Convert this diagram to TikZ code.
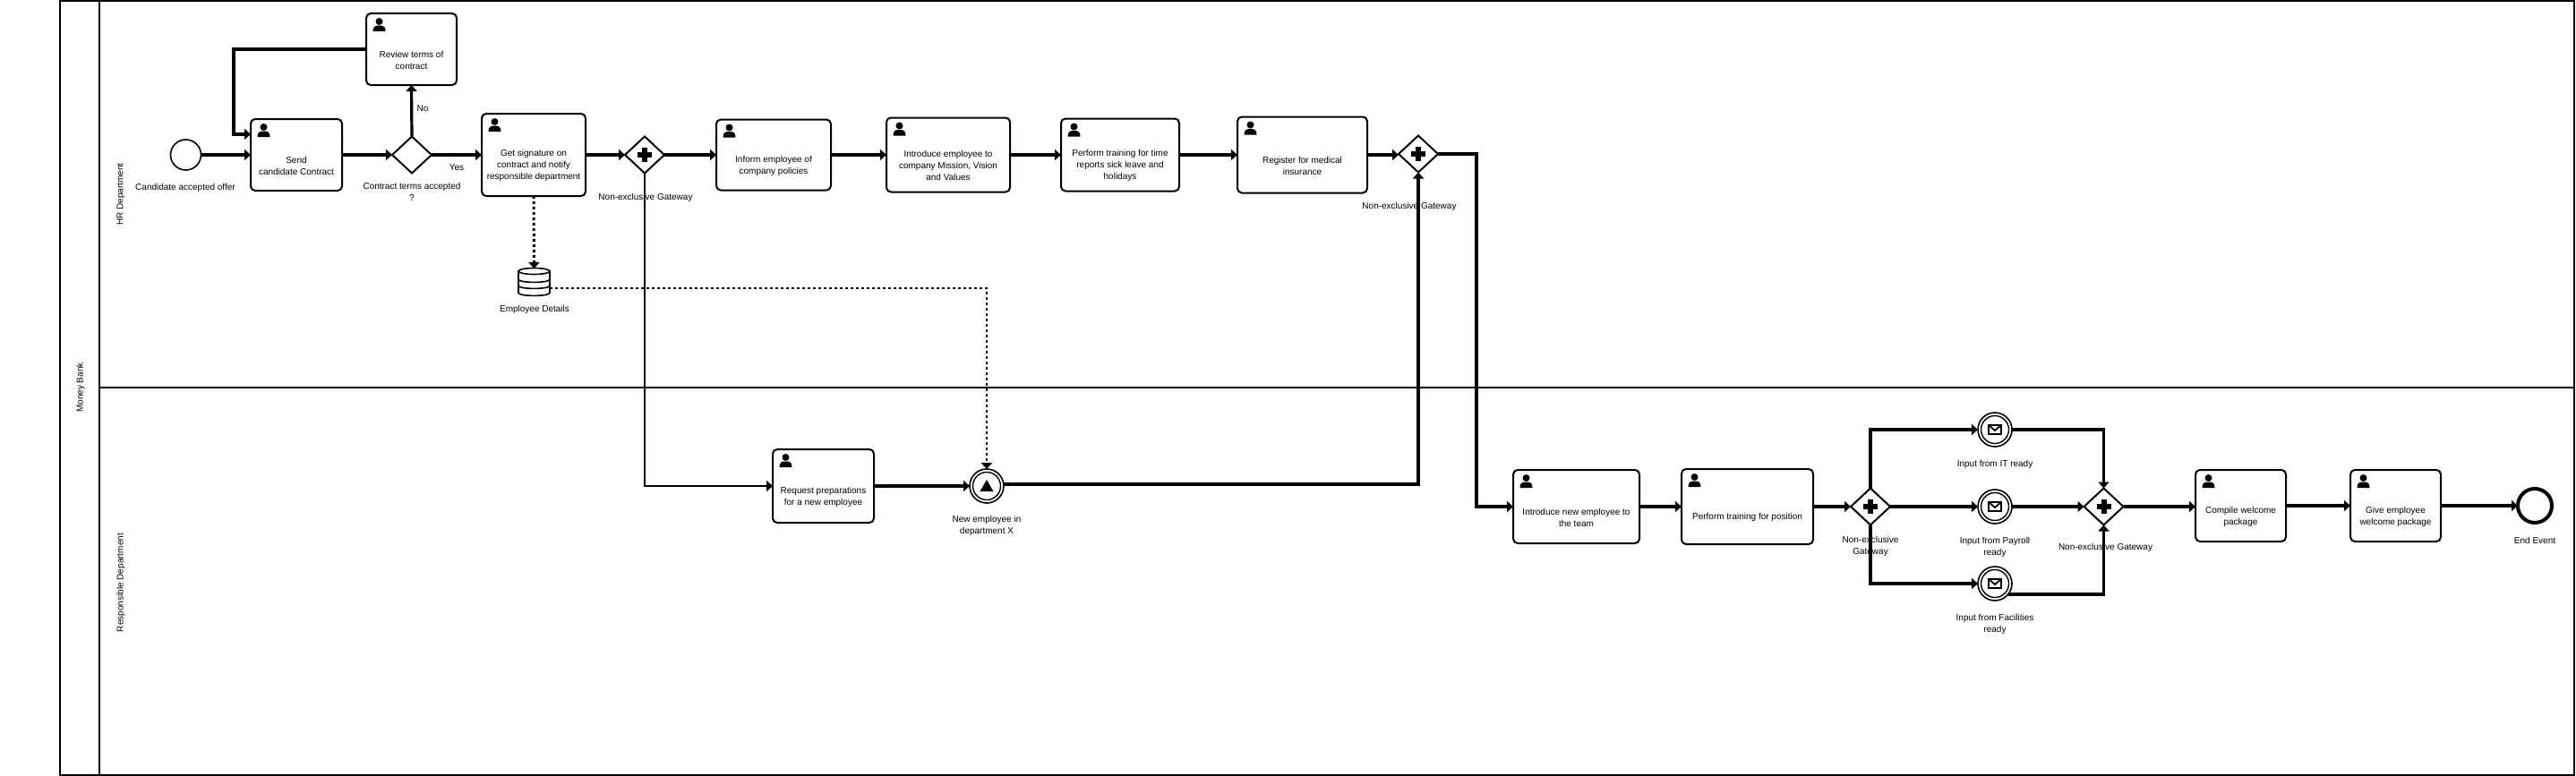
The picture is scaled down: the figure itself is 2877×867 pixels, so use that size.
\documentclass[tikz,border=0pt]{standalone}
\usepackage{fontspec}
\setmainfont{Liberation Sans}
\usepackage{tikz}
\usetikzlibrary{arrows.meta,calc,positioning,shapes.geometric}
\newcommand{\myfont}{\fontsize{10}{13}\selectfont}
\tikzset{
    textsty/.style={font=\myfont,align=center,inner sep=0pt,outer sep=0pt},
    tasksty/.style={draw,line width=2pt,rectangle,rounded corners=5pt,fill=white,inner sep=0pt,outer sep=0pt},
    gatesty/.style={draw,line width=2pt,diamond,aspect=1.07,minimum width=44pt,minimum height=41pt,fill=white,inner sep=0pt,outer sep=0pt},
    startsty/.style={draw,line width=1.6pt,circle,minimum size=34pt,fill=white,inner sep=0pt,outer sep=0pt},
    endsty/.style={draw,line width=4pt,circle,minimum size=38pt,fill=white,inner sep=0pt,outer sep=0pt},
    intersty/.style={draw,line width=1.6pt,circle,minimum size=38pt,fill=white,inner sep=0pt,outer sep=0pt},
    innersty/.style={draw,line width=1.4pt,circle,minimum size=31pt,inner sep=0pt,outer sep=0pt},
    flowsty/.style={line width=3.2pt,->},
    thinflowsty/.style={line width=2.8pt},
    dotsty/.style={line width=3pt,dash pattern=on 3pt off 3pt,->},
    thindotsty/.style={line width=2.2pt,dash pattern=on 3pt off 3pt,->},
    poolsty/.style={draw,line width=2pt,rectangle,inner sep=0pt,outer sep=0pt},
    lanesty/.style={line width=2.8pt},
    storesty/.style={draw,line width=1.6pt,fill=white},
    blanksty/.style={rectangle,minimum width=35pt,minimum height=30pt,inner sep=0pt,outer sep=0pt},
}
\newcommand{\mytask}[6]{
\node[tasksty,minimum width=#4pt,minimum height=#5pt] (#1) at (#2,#3) {};
\node[textsty] (#1-txt) at ($(#1.center)+(0,12)$) {#6};
\begin{scope}[shift={(#1.north west)}]
\fill (14.5,9) circle (4pt);
\fill (7.5,20) .. controls (7.5,14.5) and (10,13.5) .. (14.5,13.5) .. controls (19,13.5) and (21.5,14.5) .. (21.5,20) -- cycle;
\end{scope}
}
\newcommand{\mygate}[3]{
\node[gatesty] (#1) at (#2,#3) {};
\fill ($(#1.center)+(-8,-3)$) rectangle ($(#1.center)+(8,3)$);
\fill ($(#1.center)+(-3,-8)$) rectangle ($(#1.center)+(3,8)$);
}
\newcommand{\myinter}[3]{
\node[intersty] (#1) at (#2,#3) {};
\node[innersty] (#1-in) at (#1.center) {};
}
\newcommand{\mymail}[3]{
\myinter{#1}{#2}{#3}
\begin{scope}[shift={(#1.center)},line width=1.8pt]
\draw (-7,-5) rectangle (7,5);
\draw (-7,-5) -- (0,1) -- (7,-5);
\end{scope}
}
\begin{document}
\begin{tikzpicture}[x=1pt,y=-1pt,>={Triangle[length=7pt,width=12pt]}]
\useasboundingbox (0,0) rectangle (2877,867);
\node[poolsty,minimum width=2808pt,minimum height=865pt] (pool) at (1471,433.5) {};
\coordinate (lanecross) at (111,433);
\draw[lanesty] (lanecross |- pool.north) -- (lanecross |- pool.south);
\draw[lanesty] (lanecross) -- (lanecross -| pool.east);
\node[textsty,rotate=90] (bank) at (90,433) {Money Bank};
\node[textsty,rotate=90] (hrlane) at (135,217) {HR Department};
\node[textsty,rotate=90] (resplane) at (135,651) {Responsible Department};

\node[startsty] (start) at (207.5,173) {};
\mytask{send}{331}{173}{102}{80}{Send\\candidate Contract}
\node[gatesty] (gwterms) at (460,173) {};
\mytask{review}{459.5}{55}{101}{80}{Review terms of\\contract}
\mytask{sign}{596}{173}{116}{92}{Get signature on\\contract and notify\\responsible department}
\mygate{gwsplit}{720}{173}
\mytask{inform}{864}{173}{128}{79}{Inform employee of\\company policies}
\mytask{mission}{1059}{173}{138}{83}{Introduce employee to\\company Mission, Vision\\and Values}
\mytask{timerep}{1251}{173}{132}{81}{Perform training for time\\reports sick leave and\\holidays}
\mytask{medical}{1454.5}{173}{145}{85}{Register for medical\\insurance}
\mygate{gwjoin}{1584}{172}
\mytask{request}{919.5}{543}{113}{82}{Request preparations\\for a new employee}
\myinter{newev}{1102}{543}
\fill ($(newev.center)+(0,-7)$) -- ($(newev.center)+(7.5,6)$) -- ($(newev.center)+(-7.5,6)$) -- cycle;
\mytask{team}{1760.5}{566}{141}{82}{Introduce new employee to\\the team}
\mytask{position}{1951.5}{566}{147}{84}{Perform training for position}
\mygate{gwinput}{2089}{566}
\mymail{itev}{2228}{480}
\mymail{payev}{2228}{566}
\mymail{facev}{2228}{652}
\mygate{gwready}{2349.5}{566}
\mytask{compile}{2502.5}{565}{101}{80}{Compile welcome\\package}
\mytask{give}{2675.5}{565}{101}{80}{Give employee\\welcome package}
\node[endsty] (end) at (2831,565) {};

\node[blanksty] (store) at (596.5,315) {};
\begin{scope}[shift={(store.center)}]
\draw[storesty] (-17.5,-12) -- (-17.5,12) .. controls (-17.5,16.5) and (17.5,16.5) .. (17.5,12) -- (17.5,-12) -- cycle;
\draw[storesty] (0,-12) ellipse (17.5pt and 3.5pt);
\draw[line width=1.6pt] (-17.5,-3) .. controls (-17.5,1.5) and (17.5,1.5) .. (17.5,-3);
\draw[line width=1.6pt] (-17.5,4) .. controls (-17.5,8.5) and (17.5,8.5) .. (17.5,4);
\end{scope}

\foreach \a/\b in {start/send,send/gwterms,gwterms/sign,sign/gwsplit,gwsplit/inform,inform/mission,mission/timerep,timerep/medical,medical/gwjoin,request/newev,team/position,position/gwinput,gwinput/payev,payev/gwready,gwready/compile,compile/give,give/end}{
\draw[flowsty] (\a.east) -- (\b.west |- \a.east);
}
\draw[flowsty] (gwterms.north) -- (review.south);
\coordinate (loopbend) at (261,150);
\draw[flowsty] (review.west) -| (loopbend) -- (send.west |- loopbend);
\draw[flowsty,thinflowsty] (gwsplit.south) |- (request.west);
\draw[flowsty] ($(newev.east)+(0,-2)$) -| (gwjoin.south);
\coordinate (joinbend) at (1649,172);
\draw[flowsty] (gwjoin.east) -- (joinbend) |- (team.west);
\draw[flowsty] (gwinput.north) |- (itev.west);
\draw[flowsty] (gwinput.south) |- (facev.west);
\draw[flowsty] (itev.east) -| (gwready.north);
\draw[flowsty] (facev.-39) -| (gwready.south);
\draw[dotsty] (sign.south) -- (store.north);
\coordinate (dotbend) at (1102,322);
\draw[thindotsty] (store.east |- dotbend) -- (dotbend) -- (newev.north);

\node[textsty] (startlab) at (207,209.5) {Candidate accepted offer};
\node[textsty] (termslab) at (460,214) {Contract terms accepted\\?};
\node[textsty] (nolab) at (472,121) {No};
\node[textsty] (yeslab) at (510,187) {Yes};
\node[textsty] (splitlab) at (721,220.5) {Non-exclusive Gateway};
\node[textsty] (storelab) at (597,345.5) {Employee Details};
\node[textsty] (joinlab) at (1574,230.5) {Non-exclusive Gateway};
\node[textsty] (newevlab) at (1102,587) {New employee in\\department X};
\node[textsty] (inputlab) at (2089,610) {Non-exclusive\\Gateway};
\node[textsty] (itlab) at (2228,519) {Input from IT ready};
\node[textsty] (paylab) at (2228,611) {Input from Payroll\\ready};
\node[textsty] (faclab) at (2228,697.5) {Input from Facilities\\ready};
\node[textsty] (readylab) at (2351.5,611.5) {Non-exclusive Gateway};
\node[textsty] (endlab) at (2831,603.5) {End Event};
\end{tikzpicture}
\end{document}
